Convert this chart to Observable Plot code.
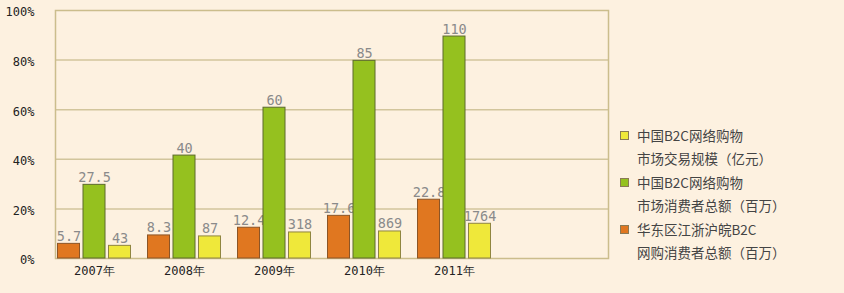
<!DOCTYPE html>
<html>
<head>
<meta charset="utf-8">
<script src="https://cdn.jsdelivr.net/npm/d3@7"></script>
<script src="https://cdn.jsdelivr.net/npm/@observablehq/plot@0.6"></script>
<style>
  html, body { margin: 0; padding: 0; background: #fdf1e0; }
  #wrap { position: relative; width: 844px; height: 293px; overflow: hidden; }
  #legend { position: absolute; left: 620px; top: 124px; font-family: "Noto Sans CJK SC", sans-serif; font-size: 13.5px; color: #444; line-height: 23.4px; }
  .item { position: relative; padding-left: 17px; }
  .sw { position: absolute; left: 0; top: 7px; width: 7px; height: 7px; border: 1px solid #8a7a55; }
</style>
</head>
<body>
<div id="wrap"><div id="chart"></div><div id="legend"></div></div>
<script>
const years = ["2007年", "2008年", "2009年", "2010年", "2011年"];
const seriesNames = [
  ["中国B2C网络购物", "市场交易规模（亿元）"],
  ["中国B2C网络购物", "市场消费者总额（百万）"],
  ["华东区江浙沪皖B2C", "网购消费者总额（百万）"]
];
const seriesColors = ["#efe83a", "#95c11f", "#e07720"];
const seriesStrokes = ["#8f8540", "#5d6b2c", "#8c5526"];
// bar heights (percent of axis)
const orangeHeights = [5.9, 9.3, 12.4, 17.2, 23.7];
const greenHeights = [29.7, 41.5, 60.8, 79.7, 89.5];
const yellowHeights = [5.1, 8.9, 10.5, 10.9, 14.0];
// printed value labels
const orangeLabels = ["5.7", "8.3", "12.4", "17.6", "22.8"];
const greenLabels = ["27.5", "40", "60", "85", "110"];
const yellowLabels = ["43", "87", "318", "869", "1764"];
const yTicks = [0, 20, 40, 60, 80, 100];

const mk = (h, l) => years.map((y, i) => ({year: y, value: h[i], label: l[i]}));
const orange = mk(orangeHeights, orangeLabels);
const green = mk(greenHeights, greenLabels);
const yellow = mk(yellowHeights, yellowLabels);

const mono = "DejaVu Sans Mono, monospace";
const inset = 34;
function series(data, fill, stroke, dx) {
  return [
    Plot.barY(data, {x: "year", y: "value", fill, stroke, strokeWidth: 1, insetLeft: inset, insetRight: inset, dx}),
    Plot.text(data, {x: "year", y: "value", text: "label", dx, dy: -3, lineAnchor: "bottom", fill: "#8a8a8a", fontFamily: mono, fontSize: 13.5})
  ];
}

const chart = Plot.plot({
  width: 620,
  height: 293,
  marginLeft: 55,
  marginRight: 12,
  marginTop: 10,
  marginBottom: 35,
  style: {background: "transparent", color: "#222"},
  x: {type: "band", domain: years, range: [47, 501.5], padding: 0},
  y: {domain: [0, 100]},
  marks: [
    Plot.ruleY(yTicks.filter(d => d > 0 && d < 100), {stroke: "#d2c59c", strokeWidth: 1.5}),
    Plot.frame({stroke: "#cbbd8c", strokeWidth: 1.5}),
    Plot.axisY({ticks: yTicks, tickFormat: d => d + "%", tickSize: 0, tickPadding: 21, fontSize: 12, fontFamily: mono, dy: 2, label: null}),
    Plot.axisX({tickSize: 0, tickPadding: 8, fontSize: 12, fontFamily: mono, label: null}),
    ...series(orange, seriesColors[2], seriesStrokes[2], -25.5),
    ...series(green, seriesColors[1], seriesStrokes[1], 0),
    ...series(yellow, seriesColors[0], seriesStrokes[0], 25.5)
  ]
});
document.getElementById("chart").appendChild(chart);

const legend = document.getElementById("legend");
seriesNames.forEach((lines, i) => {
  const item = document.createElement("div");
  item.className = "item";
  const sw = document.createElement("span");
  sw.className = "sw";
  sw.style.background = seriesColors[i];
  item.appendChild(sw);
  lines.forEach(t => { const d = document.createElement("div"); d.textContent = t; item.appendChild(d); });
  legend.appendChild(item);
});
</script>
</body>
</html>
